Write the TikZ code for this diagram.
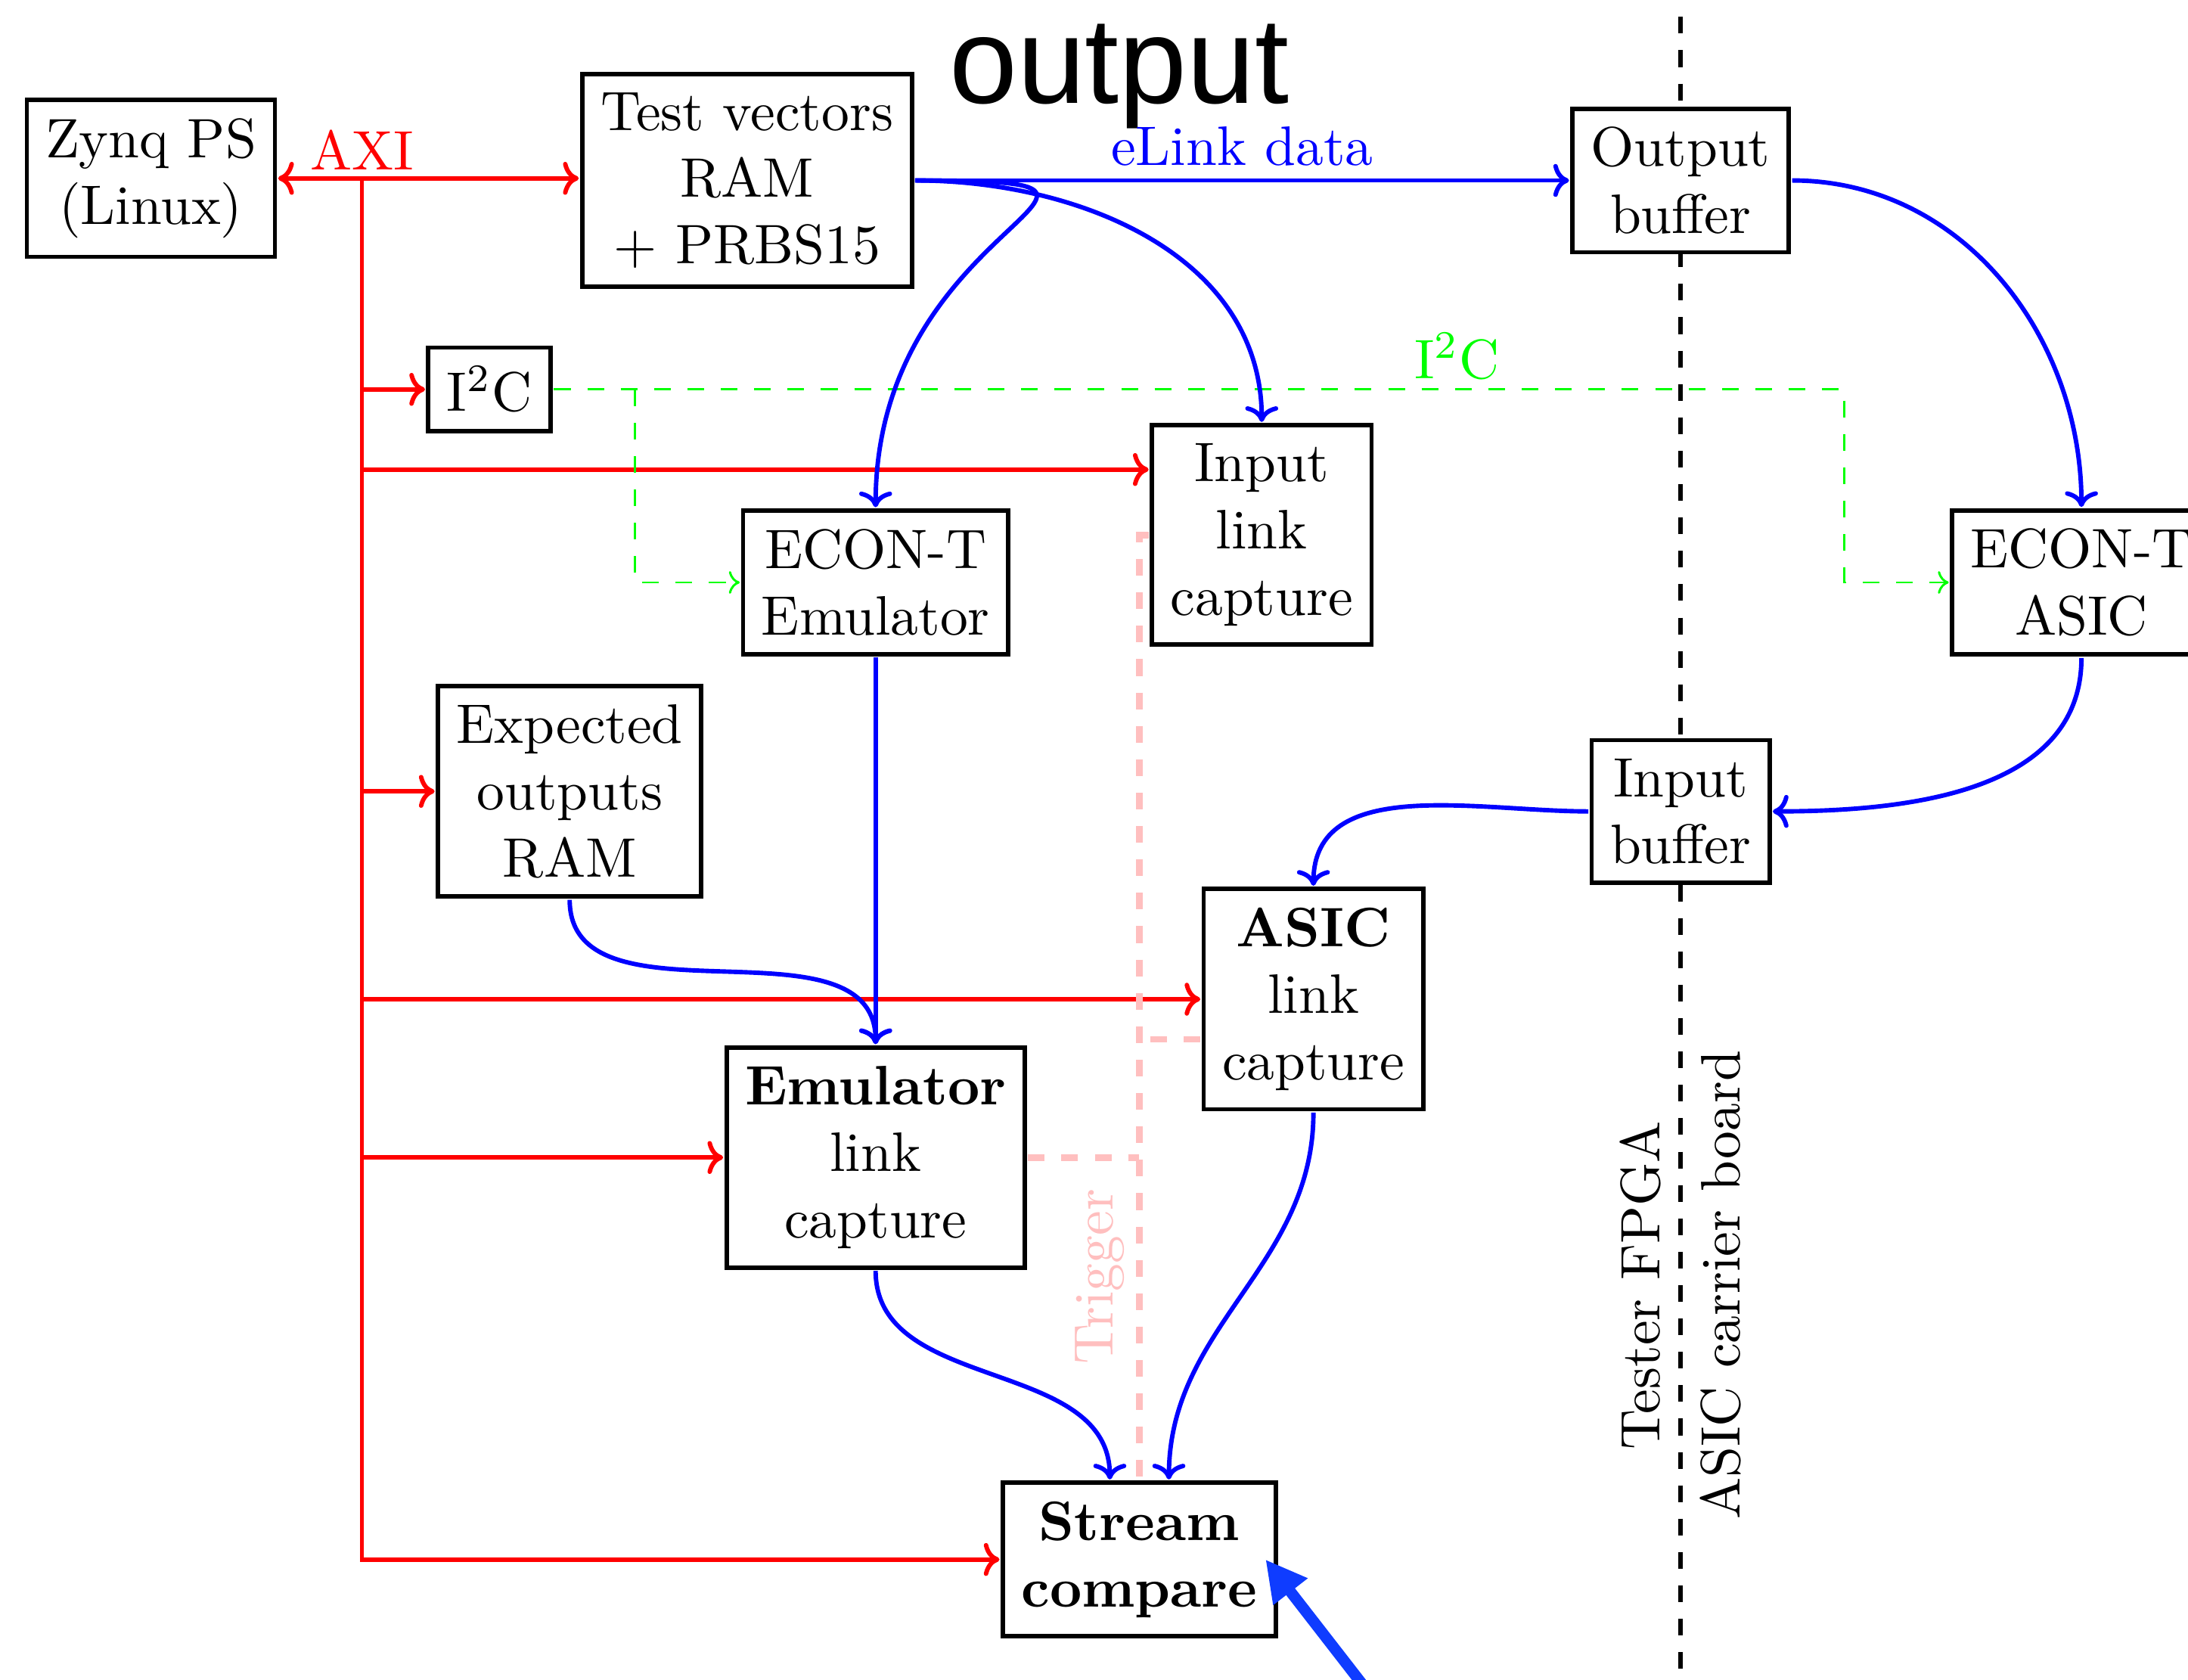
\documentclass[tikz,border=0pt]{standalone}
\usepackage{fontspec}
\newfontfamily\overlayfont{Liberation Sans}
\usepackage{tikz}
\usetikzlibrary{arrows.meta, positioning}

\definecolor{pointerblue}{RGB}{15,60,255}

\begin{document}
\begin{tikzpicture}[every node/.style={scale=1.5},
    block/.style={draw, fill=white, line width=1.2pt, align=center},
    axi/.style={red, line width=1.2pt},
    elink/.style={blue, line width=1.2pt, ->},
    i2cline/.style={green, line width=0.6pt, dash pattern=on 4.5pt off 4.5pt, ->},
    trigger/.style={pink, line width=1.8pt, dash pattern=on 4.5pt off 4.5pt},
    divider/.style={black, line width=1.2pt, dash pattern=on 4.5pt off 4.5pt},
    pointer/.style={pointerblue, line width=3pt, -{Triangle[length=11pt, width=11pt]}}]
    \useasboundingbox (0,0) rectangle (20.74,-15.92);

    % FPGA / carrier board boundary
    \coordinate (divtop) at (15.93,-0.16);
    \coordinate (divbot) at (15.93,-15.92);
    \draw[divider] (divtop) -- (divbot);

    \node[block] (zynq) at (1.43,-1.69) {Zynq PS\\(Linux)};
    \node[block] (tv) at (7.08,-1.71) {Test vectors\\RAM\\+ PRBS15};
    \node[block] (outbuf) at (15.93,-1.71) {Output\\buffer};
    \node[block] (i2c) at (4.64,-3.69) {I$^2$C};
    \node[block] (inlink) at (11.96,-5.07) {Input\\link\\capture};
    \node[block] (emu) at (8.30,-5.52) {ECON-T\\Emulator};
    \node[block] (asic) at (19.73,-5.52) {ECON-T\\ASIC};
    \node[block] (expected) at (5.40,-7.50) {Expected\\outputs\\RAM};
    \node[block] (inbuf) at (15.93,-7.69) {Input\\buffer};
    \node[block] (asiclink) at (12.45,-9.47) {\textbf{ASIC}\\link\\capture};
    \node[block] (emulink) at (8.30,-10.97) {\textbf{Emulator}\\link\\capture};
    \node[block] (stream) at (10.80,-14.78) {\textbf{Stream}\\\textbf{compare}};

    \node[rotate=90, anchor=south] (tester) at (15.93,-12.18) {Tester FPGA};
    \node[rotate=90, anchor=north] (carrier) at (15.93,-12.18) {ASIC carrier board};
    \node[font=\overlayfont\fontsize{22}{26}\selectfont, anchor=base] (title) at (10.61,-0.98) {output};

    % AXI bus
    \coordinate (bus) at (3.43,-1.69);
    \coordinate (inlinkaxi) at ([yshift=0.62cm]inlink.west);
    \draw[axi, <->] (zynq.east) -- (zynq.east -| tv.west);
    \node[red, above, inner sep=1.3pt] (axilabel) at (bus) {AXI};
    \draw[axi, ->] (bus) |- (stream.west);
    \draw[axi, ->] (bus |- i2c.west) -- (i2c.west);
    \draw[axi, ->] (bus |- inlinkaxi) -- (inlinkaxi);
    \draw[axi, ->] (bus |- expected.west) -- (expected.west);
    \draw[axi, ->] (bus |- asiclink.west) -- (asiclink.west);
    \draw[axi, ->] (bus |- emulink.west) -- (emulink.west);

    % I2C
    \coordinate (i2csplit) at (6.02,-3.69);
    \coordinate (i2cturn) at (17.48,-3.69);
    \draw[i2cline] (i2c.east) -- node[above, pos=0.7, inner sep=1.4pt] (i2clabel) {I$^2$C} (i2cturn) |- (asic.west);
    \draw[i2cline] (i2csplit) |- (emu.west);

    % trigger
    \coordinate (asictrig) at ([yshift=-0.38cm]asiclink.west);
    \draw[trigger] (inlink.west) -| (stream.north);
    \draw[trigger] (emulink.east) -- (emulink.east -| stream.north);
    \draw[trigger] (asictrig) -- (asictrig -| stream.north);
    \node[pink, rotate=90, anchor=south, inner sep=2.5pt] (triglabel) at (10.80,-12.10) {Trigger};

    % eLinks
    \draw[elink] (tv.east) -- node[above, inner sep=2pt] (elinklabel) {eLink data} (tv.east -| outbuf.west);
    \draw[elink] (tv.east) to[out=0, in=90, looseness=2.3] (emu.north);
    \draw[elink] (tv.east) to[out=0, in=90] (inlink.north);
    \draw[elink] (outbuf.east) to[out=0, in=90] (asic.north);
    \draw[elink] (asic.south) to[out=-90, in=0] (inbuf.east);
    \draw[elink] (inbuf.west) to[out=180, in=90] (asiclink.north);
    \draw[elink] (expected.south) to[out=-90, in=90] (emulink.north);
    \draw[elink] (emu.south) -- (emulink.north);
    \draw[elink] (emulink.south) to[out=-90, in=90] ([xshift=-0.28cm]stream.north);
    \draw[elink] (asiclink.south) to[out=-90, in=90] ([xshift=0.28cm]stream.north);

    \coordinate (pointertail) at (13.02,-16.10);
    \draw[pointer] (pointertail) -- ([xshift=-0.13cm]stream.east);
\end{tikzpicture}
\end{document}
